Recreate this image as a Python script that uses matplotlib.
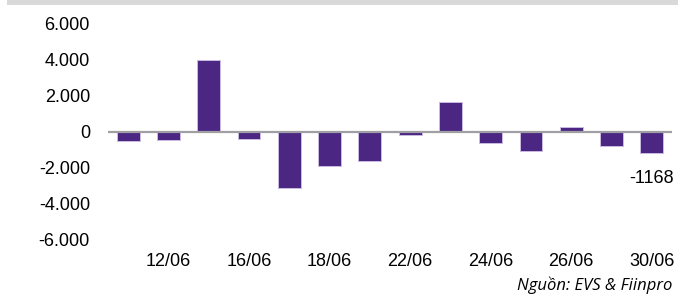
import matplotlib
matplotlib.use("Agg")
import matplotlib.pyplot as plt
from matplotlib.patches import Rectangle
from matplotlib.ticker import FuncFormatter

dates = ["11/06", "12/06", "15/06", "16/06", "17/06", "18/06", "19/06",
         "22/06", "23/06", "24/06", "25/06", "26/06", "29/06", "30/06"]
values = [-480, -460, 4020, -380, -3100, -1900, -1630,
          -180, 1690, -600, -1070, 300, -790, -1168]
shown_labels = ["12/06", "16/06", "18/06", "22/06", "24/06", "26/06", "30/06"]
yticks = [-6000, -4000, -2000, 0, 2000, 4000, 6000]
last_label = "-1168"
source = "Nguồn: EVS & Fiinpro"

plt.rcParams['font.family'] = ['Liberation Sans', 'DejaVu Sans']

fig = plt.figure(figsize=(6.78, 3.05), dpi=100)
ax = fig.add_axes([108/678, 65/305, 564/678, 216/305])

x = list(range(len(dates)))
ax.bar(x, values, width=0.57, color="#4b2683", edgecolor="#c9bbe2", linewidth=0.7, zorder=2)
ax.axhline(0, color="#a0a0a4", linewidth=1.6, zorder=3)

ax.set_xlim(-0.5, len(dates) - 0.5)
ax.set_ylim(yticks[0], yticks[-1])
ax.set_yticks(yticks)
ax.yaxis.set_major_formatter(FuncFormatter(lambda v, p: f"{int(v):,}".replace(",", ".")))
ax.set_xticks(x)
ax.set_xticklabels([d if d in shown_labels else "" for d in dates])
ax.tick_params(axis="both", length=0, labelsize=13, colors="#000000")
ax.tick_params(axis="y", pad=13)
ax.tick_params(axis="x", pad=9)
for s in ax.spines.values():
    s.set_visible(False)

ax.annotate(last_label, xy=(x[-1], values[-1]), xytext=(0, -12), textcoords="offset points",
            ha="center", va="top", fontsize=13)

fig.text(672/678, 1 - 285/305, source, ha="right", va="center", fontsize=12,
         style="italic", family=["Open Sans", "DejaVu Sans"])

fig.patches.append(Rectangle((7/678, 300/305), 1, 5/305, transform=fig.transFigure,
                             facecolor="#d9d9d9", edgecolor="none"))

fig.savefig("out.png", dpi=100)
